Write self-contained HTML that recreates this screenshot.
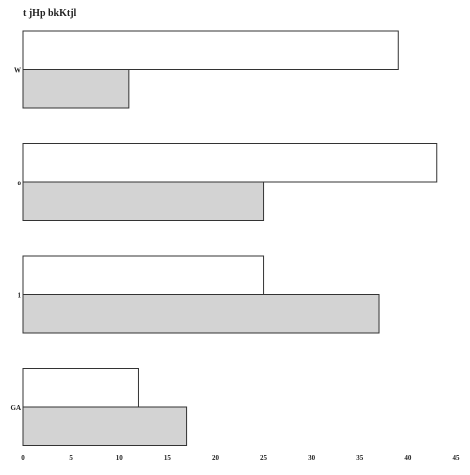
<!DOCTYPE html>
<html><head><meta charset="utf-8"><style>
html,body{margin:0;padding:0;background:#fff;}
text{font-family:"Liberation Serif",serif;font-weight:bold;fill:#222;}
</style></head><body>
<svg id="chart" width="470" height="470" viewBox="0 0 470 470" xmlns="http://www.w3.org/2000/svg">
<text x="23" y="16" font-size="10">t jHp bkKtjl</text>
<g id="bars"></g><g id="ylabels"></g><g id="xticks"></g>
</svg>
<script>
const categories = ["W", "o", "1", "GA"];
const seriesA = [39, 43, 25, 12];
const seriesB = [11, 25, 37, 17];
const tickValues = [0, 5, 10, 15, 20, 25, 30, 35, 40, 45];

const NS = "http://www.w3.org/2000/svg";
const x0 = 23, pxPerUnit = (456 - 23) / 45;
const xScale = v => x0 + v * pxPerUnit;
const bandStart = 31, bandStep = 112.5, barH = 38.5;
const bars = document.getElementById("bars");
const yl = document.getElementById("ylabels");
const xt = document.getElementById("xticks");
categories.forEach((c, i) => {
  const top = bandStart + i * bandStep;
  const mid = top + barH;
  const r1 = document.createElementNS(NS, "rect");
  r1.setAttribute("x", x0); r1.setAttribute("y", top);
  r1.setAttribute("width", xScale(seriesA[i]) - x0); r1.setAttribute("height", barH);
  r1.setAttribute("fill", "#fff"); r1.setAttribute("stroke", "#333"); r1.setAttribute("stroke-width", "1");
  
  
  bars.appendChild(r1);
  const r2 = document.createElementNS(NS, "rect");
  r2.setAttribute("x", x0); r2.setAttribute("y", mid);
  r2.setAttribute("width", xScale(seriesB[i]) - x0); r2.setAttribute("height", barH);
  r2.setAttribute("fill", "#d3d3d3"); r2.setAttribute("stroke", "#333"); r2.setAttribute("stroke-width", "1");
  
  
  bars.appendChild(r2);
  const t = document.createElementNS(NS, "text");
  t.setAttribute("x", 21); t.setAttribute("y", mid + 3);
  t.setAttribute("text-anchor", "end"); t.setAttribute("font-size", "7");
  t.textContent = c;
  
  
  yl.appendChild(t);
});
tickValues.forEach(v => {
  const t = document.createElementNS(NS, "text");
  t.setAttribute("x", xScale(v)); t.setAttribute("y", 460);
  t.setAttribute("text-anchor", "middle"); t.setAttribute("font-size", "7");
  t.textContent = v;
  
  
  xt.appendChild(t);
});
</script>
</body></html>
